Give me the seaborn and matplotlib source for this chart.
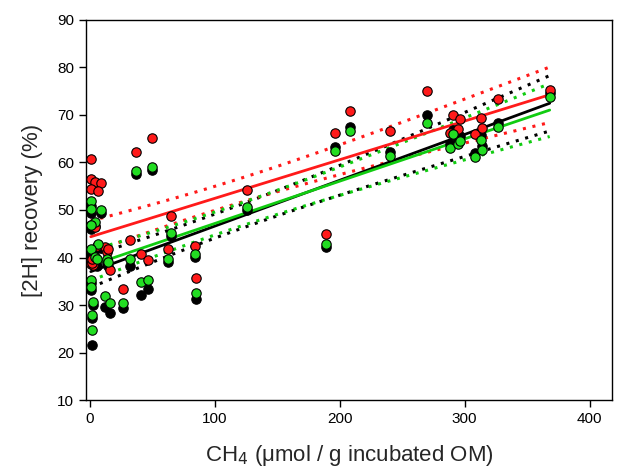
import numpy as np
import pandas as pd
import matplotlib
matplotlib.use("Agg")
import matplotlib.pyplot as plt
import seaborn as sns

# ===================================================================
# DATA – CH4 produced vs [2H] recovery, three series per sample
# ===================================================================
ch4 = [1, 1, 4, 9, 1, 7, 1, 4, 6, 1, 1, 3, 2, 2, 12, 16, 14, 15,
       27, 32, 37, 41, 47, 50, 63, 65, 84, 85, 126, 189, 196, 208,
       240, 270, 288, 291, 295, 296, 308, 313, 314, 327, 368]
rec_red = [60.7, 56.5, 55.9, 55.6, 54.4, 54.0, 46.8, 46.4, 42.5, 39.4, 38.6,
           38.4, 38.8, 39.6, 42.2, 37.3, 41.1, 41.8, 33.3, 43.6, 62.2, 40.7,
           39.4, 65.1, 41.8, 48.7, 42.4, 35.7, 54.2, 44.9, 66.2, 70.8, 66.6,
           75.0, 66.3, 69.9, 67.0, 69.2, 66.0, 69.3, 67.2, 73.3, 75.2]
rec_green = [51.9, 50.2, 47.5, 50.0, 46.9, 42.9, 41.8, 40.1, 39.6, 35.3, 33.8,
             30.7, 27.9, 24.8, 31.9, 30.4, 39.7, 39.1, 30.4, 39.7, 58.2, 34.8,
             35.3, 59.1, 39.7, 45.2, 40.7, 32.5, 50.6, 42.8, 62.4, 66.6, 61.3,
             68.4, 63.0, 66.0, 63.9, 64.5, 61.1, 64.8, 62.7, 67.4, 73.7]
rec_black = [50.9, 49.3, 46.7, 49.4, 46.1, 42.0, 40.6, 39.0, 38.2, 34.6, 33.1,
             29.9, 27.2, 21.6, 29.6, 28.3, 38.8, 38.2, 29.4, 38.2, 57.5, 32.1,
             33.4, 58.5, 39.0, 44.5, 40.2, 31.2, 50.0, 42.3, 63.3, 67.5, 62.3,
             70.0, 63.8, 66.9, 64.8, 65.5, 62.0, 65.8, 63.5, 68.2, 74.6]

series_names = ["black", "red", "green"]
point_colors = {"black": "#000000", "red": "#ff1a1a", "green": "#22dd22"}
line_colors = {"black": "#000000", "red": "#ff1a1a", "green": "#11cc11"}

df = pd.DataFrame({
    "ch4": ch4 * 3,
    "rec": rec_black + rec_red + rec_green,
    "series": ["black"] * len(ch4) + ["red"] * len(ch4) + ["green"] * len(ch4),
})


def ci_band(x, y, grid, level_t=2.017):
    """95% confidence band of the regression line (SigmaPlot style)."""
    x = np.asarray(x, float)
    y = np.asarray(y, float)
    n = len(x)
    b, a = np.polyfit(x, y, 1)
    resid = y - (a + b * x)
    s = np.sqrt(np.sum(resid ** 2) / (n - 2))
    se = s * np.sqrt(1.0 / n + (grid - x.mean()) ** 2 / np.sum((x - x.mean()) ** 2))
    fit = a + b * grid
    return fit - level_t * se, fit + level_t * se


# ===================================================================
# PLOT
# ===================================================================
sns.set_style("ticks")
plt.rcParams["font.family"] = ["Liberation Sans", "DejaVu Sans"]

fig = plt.figure(figsize=(6.26, 4.74), dpi=100)
ax = fig.add_axes([0.137, 0.156, 0.841, 0.802])

grid = np.linspace(min(ch4), max(ch4), 100)
for name in series_names:
    sub = df[df["series"] == name]
    lo, hi = ci_band(sub["ch4"], sub["rec"], grid)
    ax.plot(grid, lo, ls=(0, (1, 2.2)), lw=2.2, color=line_colors[name], zorder=2)
    ax.plot(grid, hi, ls=(0, (1, 2.2)), lw=2.2, color=line_colors[name], zorder=2)
    sns.regplot(data=sub, x="ch4", y="rec", ax=ax, ci=None, scatter=False,
                line_kws=dict(color=line_colors[name], lw=2, zorder=3))

for name in series_names:
    sub = df[df["series"] == name]
    sns.scatterplot(data=sub, x="ch4", y="rec", ax=ax, color=point_colors[name],
                    edgecolor="black", linewidth=0.8, s=46, zorder=4, legend=False)

ax.set_xlim(-3, 418)
ax.set_ylim(10, 90)
ax.set_xticks([0, 100, 200, 300, 400])
ax.set_yticks(range(10, 91, 10))
ax.tick_params(direction="out", length=5, width=1, labelsize=11, colors="black")
for sp in ax.spines.values():
    sp.set_linewidth(1)
    sp.set_color("black")

ax.set_xlabel("CH$_4$ (\u03bcmol / g incubated OM)", fontsize=16, labelpad=12)
ax.set_ylabel("[2H] recovery (%)", fontsize=16, labelpad=10)

fig.savefig("out.png", dpi=100)
plt.close(fig)
